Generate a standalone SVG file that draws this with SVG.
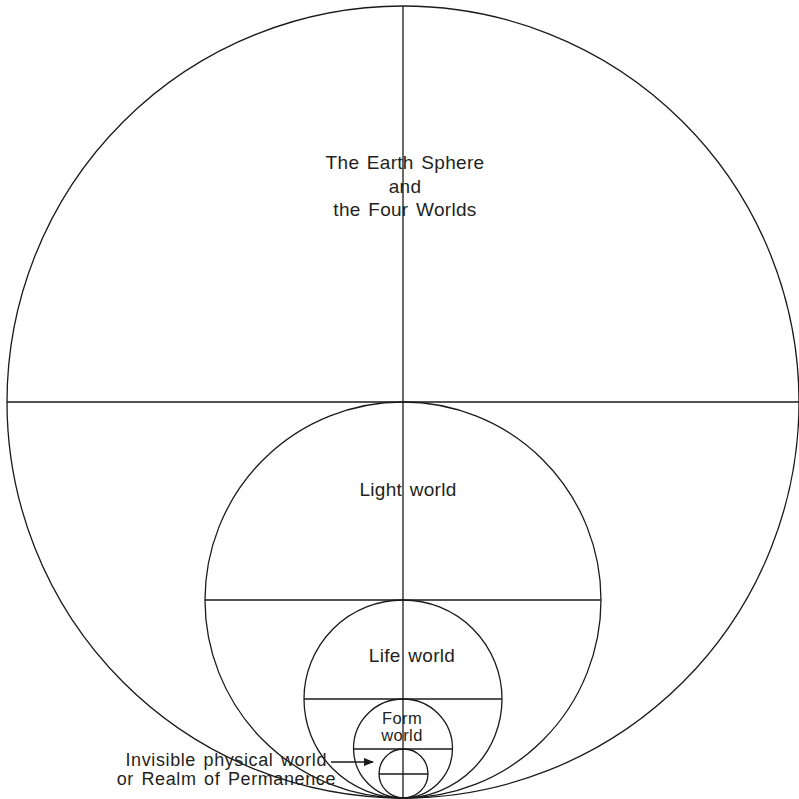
<svg xmlns="http://www.w3.org/2000/svg" width="799" height="799" viewBox="0 0 799 799">
<style>
.c{fill:none;stroke:#1a1a1a;stroke-width:1.3}
.l{stroke:#1a1a1a;stroke-width:1.3}
text{font-family:"Liberation Sans",Arial,sans-serif;font-size:19px;letter-spacing:0.3px;word-spacing:2px;fill:#231f20}
.s{font-size:16.5px;letter-spacing:0.4px}
.b{font-size:18px;letter-spacing:0.6px}
</style>
<defs>
<marker id="ah" markerWidth="10" markerHeight="8" refX="9" refY="4" orient="auto" markerUnits="userSpaceOnUse">
<path d="M0,0 L10,4 L0,8 Z" fill="#1a1a1a"/>
</marker>
</defs>
<rect width="799" height="799" fill="#fff"/>
<g id="earth-sphere">
<circle class="c" cx="403" cy="402" r="396"/>
<line class="l" x1="7" y1="402" x2="799" y2="402"/>
<text x="405" y="169" text-anchor="middle">The Earth Sphere</text>
<text x="405" y="193" text-anchor="middle">and</text>
<text x="405" y="216" text-anchor="middle">the Four Worlds</text>
</g>
<g id="light-world">
<circle class="c" cx="403" cy="600" r="198"/>
<line class="l" x1="205" y1="600" x2="601" y2="600"/>
<text x="408" y="496" text-anchor="middle">Light world</text>
</g>
<g id="life-world">
<circle class="c" cx="403" cy="699" r="99"/>
<line class="l" x1="304" y1="699" x2="502" y2="699"/>
<text x="412" y="662" text-anchor="middle">Life world</text>
</g>
<g id="form-world">
<circle class="c" cx="403" cy="748.5" r="49.5"/>
<line class="l" x1="353.5" y1="749" x2="452.5" y2="749"/>
<text class="s" x="402" y="724" text-anchor="middle">Form</text>
<text class="s" x="402" y="741" text-anchor="middle">world</text>
</g>
<g id="invisible-physical-world">
<circle class="c" cx="403.5" cy="773.5" r="24.5"/>
<line class="l" x1="379" y1="774" x2="428" y2="774"/>
<text class="b" x="327" y="766" text-anchor="end">Invisible physical world</text>
<text class="b" x="336" y="785" text-anchor="end">or Realm of Permanence</text>
</g>
<g id="connectors">
<line class="l" x1="403" y1="6" x2="403" y2="798"/>
<line class="l" x1="331" y1="762" x2="373" y2="762" marker-end="url(#ah)"/>
</g>
</svg>
